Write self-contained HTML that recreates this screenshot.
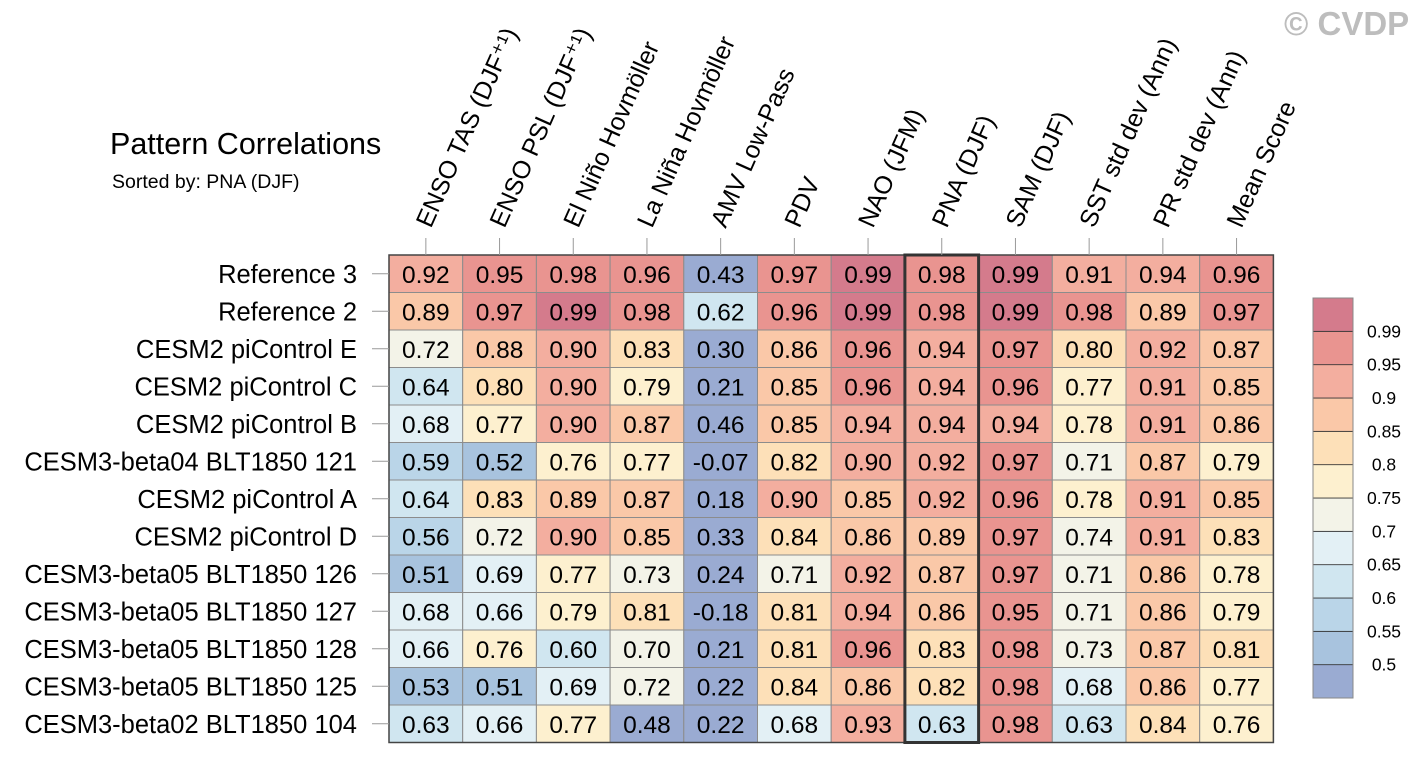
<!DOCTYPE html>
<html><head><meta charset="utf-8"><style>
body{margin:0;background:#fff;}
svg{display:block;font-family:"Liberation Sans",Arial,sans-serif;}
</style></head><body>
<svg id="chart" width="1423" height="764" xmlns="http://www.w3.org/2000/svg">
<text x="1284" y="35" font-size="33" font-weight="bold" fill="#bdbdbd">© CVDP</text>
<text x="110" y="154" font-size="30.5">Pattern Correlations</text>
<text x="112" y="188" font-size="19.5">Sorted by: PNA (DJF)</text>
<g id="cells"></g><g id="labels"></g><g id="cbar"></g>
</svg>
<script>
const columns=["ENSO TAS (DJF⁺¹)","ENSO PSL (DJF⁺¹)","El Niño Hovmöller","La Niña Hovmöller","AMV Low-Pass","PDV","NAO (JFM)","PNA (DJF)","SAM (DJF)","SST std dev (Ann)","PR std dev (Ann)","Mean Score"];
const rows=["Reference 3","Reference 2","CESM2 piControl E","CESM2 piControl C","CESM2 piControl B","CESM3-beta04 BLT1850 121","CESM2 piControl A","CESM2 piControl D","CESM3-beta05 BLT1850 126","CESM3-beta05 BLT1850 127","CESM3-beta05 BLT1850 128","CESM3-beta05 BLT1850 125","CESM3-beta02 BLT1850 104"];
const values=[
[0.92,0.95,0.98,0.96,0.43,0.97,0.99,0.98,0.99,0.91,0.94,0.96],
[0.89,0.97,0.99,0.98,0.62,0.96,0.99,0.98,0.99,0.98,0.89,0.97],
[0.72,0.88,0.90,0.83,0.30,0.86,0.96,0.94,0.97,0.80,0.92,0.87],
[0.64,0.80,0.90,0.79,0.21,0.85,0.96,0.94,0.96,0.77,0.91,0.85],
[0.68,0.77,0.90,0.87,0.46,0.85,0.94,0.94,0.94,0.78,0.91,0.86],
[0.59,0.52,0.76,0.77,-0.07,0.82,0.90,0.92,0.97,0.71,0.87,0.79],
[0.64,0.83,0.89,0.87,0.18,0.90,0.85,0.92,0.96,0.78,0.91,0.85],
[0.56,0.72,0.90,0.85,0.33,0.84,0.86,0.89,0.97,0.74,0.91,0.83],
[0.51,0.69,0.77,0.73,0.24,0.71,0.92,0.87,0.97,0.71,0.86,0.78],
[0.68,0.66,0.79,0.81,-0.18,0.81,0.94,0.86,0.95,0.71,0.86,0.79],
[0.66,0.76,0.60,0.70,0.21,0.81,0.96,0.83,0.98,0.73,0.87,0.81],
[0.53,0.51,0.69,0.72,0.22,0.84,0.86,0.82,0.98,0.68,0.86,0.77],
[0.63,0.66,0.77,0.48,0.22,0.68,0.93,0.63,0.98,0.63,0.84,0.76]];
const levels=[0.5,0.55,0.6,0.65,0.7,0.75,0.8,0.85,0.9,0.95,0.99];
const levelLabels=["0.5","0.55","0.6","0.65","0.7","0.75","0.8","0.85","0.9","0.95","0.99"];
const palette=["#9aabd2","#a8c3de","#bad5e8","#d0e6f0","#e3f0f5","#f3f3e8","#fdf0cf","#fde0b8","#fac8a8","#f3ae9f","#e99490","#d47b8c"];
const sortedCol=7;
const NS="http://www.w3.org/2000/svg";
const X0=389,Y0=255,CW=73.7,RH=37.5;
const xPos=i=>X0+i*CW, yPos=j=>Y0+j*RH;
function colorOf(v){let k=0;for(let i=0;i<levels.length;i++){if(v>=levels[i]-1e-9)k=i+1;}return palette[k];}
function mk(tag,attrs,parent){const e=document.createElementNS(NS,tag);for(const a in attrs)e.setAttribute(a,attrs[a]);parent.appendChild(e);return e;}
const cells=document.getElementById('cells'),labels=document.getElementById('labels'),cb=document.getElementById('cbar');
values.forEach((row,j)=>row.forEach((v,i)=>{
 const r=mk('rect',{x:xPos(i),y:yPos(j),width:CW,height:RH,fill:colorOf(v),stroke:'#8c8c8c','stroke-width':1},cells);
 
 
 const t=mk('text',{x:xPos(i)+CW/2,y:yPos(j)+RH/2+9,'text-anchor':'middle','font-size':24.5},cells);
 
 
 t.textContent=v.toFixed(2);
}));
const W=columns.length*CW,H=rows.length*RH;
const fr=mk('rect',{x:X0,y:Y0,width:W,height:H,fill:'none',stroke:'#444','stroke-width':1.5},cells);


const hl=mk('rect',{x:xPos(sortedCol),y:Y0,width:CW,height:H,fill:'none',stroke:'#333','stroke-width':3},cells);


rows.forEach((name,j)=>{
 const y=yPos(j)+RH/2;
 const tk=mk('line',{x1:372,x2:X0,y1:y,y2:y,stroke:'#999','stroke-width':1},labels);
 
 
 const t=mk('text',{x:357,y:y+9,'text-anchor':'end','font-size':25.5},labels);
 
 
 t.textContent=name;
});
columns.forEach((name,i)=>{
 const x=xPos(i)+CW/2;
 const tk=mk('line',{x1:x,x2:x,y1:238,y2:Y0,stroke:'#999','stroke-width':1},labels);
 
 
 const t=mk('text',{x:x+5,y:229,'font-size':25,transform:`rotate(-66 ${x+5} 229)`},labels);
 
 
 t.textContent=name;
});
const CBX=1313,CBY=298,CBW=40,CBH=400,bh=CBH/palette.length;
palette.forEach((c,k)=>{
 const r=mk('rect',{x:CBX,y:CBY+CBH-(k+1)*bh,width:CBW,height:bh,fill:c,stroke:'#333','stroke-width':0.8},cb);
 
 
});
const cbf=mk('rect',{x:CBX,y:CBY,width:CBW,height:CBH,fill:'none',stroke:'#888','stroke-width':1},cb);


levelLabels.forEach((lab,k)=>{
 const y=CBY+CBH-(k+1)*bh;
 const t=mk('text',{x:1384,y:y+6,'text-anchor':'middle','font-size':17.5},cb);
 
 
 t.textContent=lab;
});
</script>
</body></html>
